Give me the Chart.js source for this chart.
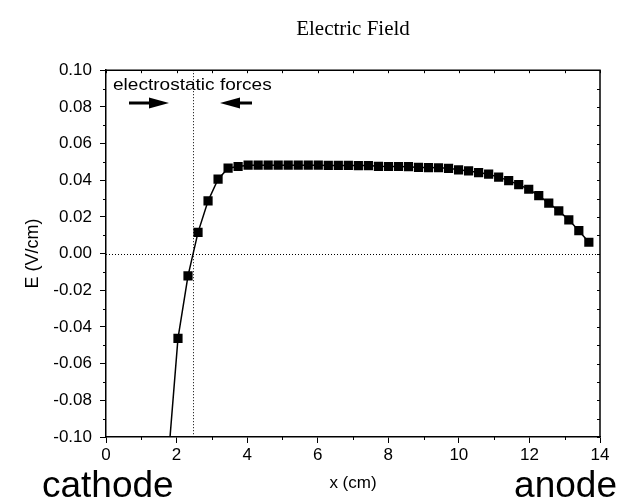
<!DOCTYPE html>
<html>
  <head>
    <script src="https://cdn.jsdelivr.net/npm/chart.js@4"></script>
    <style>
      html, body { margin: 0; padding: 0; background: #fff; }
    </style>
  </head>
  <body>
    <canvas id="canvas" width="626" height="503"></canvas>
    <script>
      // position (cm) and field (V/cm); first point sits below the axis
      const xValues = [1.756, 2.04, 2.324, 2.608, 2.892, 3.176, 3.46, 3.744, 4.028, 4.312, 4.596,
        4.88, 5.164, 5.448, 5.732, 6.016, 6.3, 6.584, 6.868, 7.152, 7.436, 7.72,
        8.004, 8.288, 8.572, 8.856, 9.14, 9.424, 9.708, 9.992, 10.276, 10.56,
        10.844, 11.128, 11.412, 11.696, 11.98, 12.264, 12.548, 12.832, 13.116, 13.4, 13.684];
      const eValues = [-0.114, -0.0462, -0.0121, 0.0116, 0.0287, 0.0406, 0.0466, 0.0475, 0.0482,
        0.0482, 0.0482, 0.0482, 0.0482, 0.0482, 0.0482, 0.0482, 0.0481, 0.0481, 0.0481,
        0.048, 0.048, 0.0476, 0.0475, 0.0475, 0.0474, 0.047, 0.0469, 0.0468, 0.0465,
        0.0457, 0.0451, 0.0442, 0.0433, 0.0417, 0.0398, 0.0376, 0.0351, 0.0316, 0.0275,
        0.0233, 0.0184, 0.0125, 0.0062];
      const xTicks = [0, 2, 4, 6, 8, 10, 12, 14];
      const yTicks = [-0.1, -0.08, -0.06, -0.04, -0.02, 0, 0.02, 0.04, 0.06, 0.08, 0.1];
      const zeroLevel = 0;
      const forceBoundary = 2.47;

      const sans = 'Liberation Sans, Arial, sans-serif';

      const extras = {
        id: 'extras',
        beforeDatasetsDraw(chart) {
          const { ctx, chartArea: a, scales: { x, y } } = chart;
          ctx.save();
          ctx.strokeStyle = '#000';
          ctx.lineWidth = 1;
          ctx.setLineDash([1, 2]);
          const y0 = Math.round(y.getPixelForValue(zeroLevel)) + 0.5;
          ctx.beginPath();
          ctx.moveTo(a.left, y0);
          ctx.lineTo(a.right, y0);
          const xb = Math.round(x.getPixelForValue(forceBoundary)) + 0.5;
          ctx.moveTo(xb, a.top);
          ctx.lineTo(xb, a.bottom);
          ctx.stroke();
          ctx.restore();
        },
        afterDraw(chart) {
          const { ctx, chartArea: a, scales: { x, y } } = chart;
          ctx.save();
          ctx.strokeStyle = '#000';
          ctx.lineWidth = 1.5;
          // top and right frame
          ctx.beginPath();
          ctx.moveTo(a.left, a.top);
          ctx.lineTo(a.right, a.top);
          ctx.lineTo(a.right, a.bottom);
          ctx.stroke();

          // minor ticks + inward ticks on top / right
          ctx.lineWidth = 1;
          ctx.beginPath();
          for (let v = 0; v <= 14; v++) {
            const px = Math.round(x.getPixelForValue(v)) + 0.5;
            if (v % 2) {
              ctx.moveTo(px, a.bottom);
              ctx.lineTo(px, a.bottom + 3);
            }
            ctx.moveTo(px, a.top);
            ctx.lineTo(px, a.top + 3);
          }
          for (let k = -10; k <= 10; k++) {
            const py = Math.round(y.getPixelForValue(k / 100)) + 0.5;
            if (k % 2) {
              ctx.moveTo(a.left, py);
              ctx.lineTo(a.left - 3, py);
            }
            ctx.moveTo(a.right, py);
            ctx.lineTo(a.right - 3, py);
          }
          ctx.stroke();

          // annotation text and arrows
          ctx.fillStyle = '#000';
          ctx.textBaseline = 'alphabetic';
          ctx.font = '17px ' + sans;
          ctx.save();
          ctx.translate(113, 90);
          ctx.scale(1.12, 1);
          ctx.fillText('electrostatic forces', 0, 0);
          ctx.restore();

          const arrow = (from, to, yy) => {
            const dir = Math.sign(to - from);
            const headStart = to - dir * 20;
            ctx.fillRect(Math.min(from, headStart), yy - 1.5, Math.abs(headStart - from), 3);
            ctx.beginPath();
            ctx.moveTo(headStart, yy - 5.5);
            ctx.lineTo(to, yy);
            ctx.lineTo(headStart, yy + 5.5);
            ctx.closePath();
            ctx.fill();
          };
          arrow(129, 169, 103);
          arrow(252, 220, 103);

          ctx.font = '37px ' + sans;
          ctx.fillText('cathode', 42, 497);
          ctx.textAlign = 'right';
          ctx.fillText('anode', 617, 497);
          ctx.restore();
        }
      };

      new Chart(document.getElementById('canvas').getContext('2d'), {
        type: 'scatter',
        data: {
          datasets: [{
            label: 'E',
            data: xValues.map((v, i) => ({ x: v, y: eValues[i] })),
            showLine: true,
            borderColor: '#000',
            borderWidth: 1.5,
            tension: 0,
            pointStyle: 'rect',
            pointRadius: 6.5,
            pointBorderWidth: 0,
            pointBackgroundColor: '#000',
            pointBorderColor: '#000'
          }]
        },
        options: {
          responsive: false,
          animation: false,
          devicePixelRatio: 1,
          layout: { padding: { top: 0, right: 26, bottom: 0, left: 0 } },
          plugins: {
            legend: { display: false },
            tooltip: { enabled: false },
            title: {
              display: true,
              fullSize: false,
              text: 'Electric Field',
              color: '#000',
              font: { family: 'Liberation Serif, serif', size: 21, weight: 'normal' },
              padding: { top: 17, bottom: 28 }
            }
          },
          scales: {
            x: {
              type: 'linear',
              min: 0,
              max: 14,
              afterBuildTicks: (s) => { s.ticks = xTicks.map((v) => ({ value: v })); },
              afterFit: (s) => { s.height = 66; },
              ticks: {
                color: '#000',
                padding: 2,
                maxRotation: 0,
                font: { family: sans, size: 17 }
              },
              grid: { display: true, drawOnChartArea: false, drawTicks: true, tickLength: 6, color: '#000' },
              border: { display: true, color: '#000', width: 1.5 },
              title: {
                display: true,
                text: 'x (cm)',
                color: '#000',
                font: { family: sans, size: 17 },
                padding: { top: 0, bottom: 9 }
              }
            },
            y: {
              type: 'linear',
              min: -0.1,
              max: 0.1,
              afterBuildTicks: (s) => { s.ticks = yTicks.map((v) => ({ value: v })); },
              afterFit: (s) => { s.width = 106; },
              ticks: {
                color: '#000',
                padding: 8,
                font: { family: sans, size: 17 },
                callback: (v) => (Math.abs(v) < 1e-9 ? 0 : v).toFixed(2)
              },
              grid: { display: true, drawOnChartArea: false, drawTicks: true, tickLength: 6, color: '#000' },
              border: { display: true, color: '#000', width: 1.5 },
              title: {
                display: true,
                text: 'E (V/cm)',
                color: '#000',
                font: { family: sans, size: 18 },
                padding: { top: 22, bottom: 0 }
              }
            }
          }
        },
        plugins: [extras]
      });
    </script>
  </body>
</html>
